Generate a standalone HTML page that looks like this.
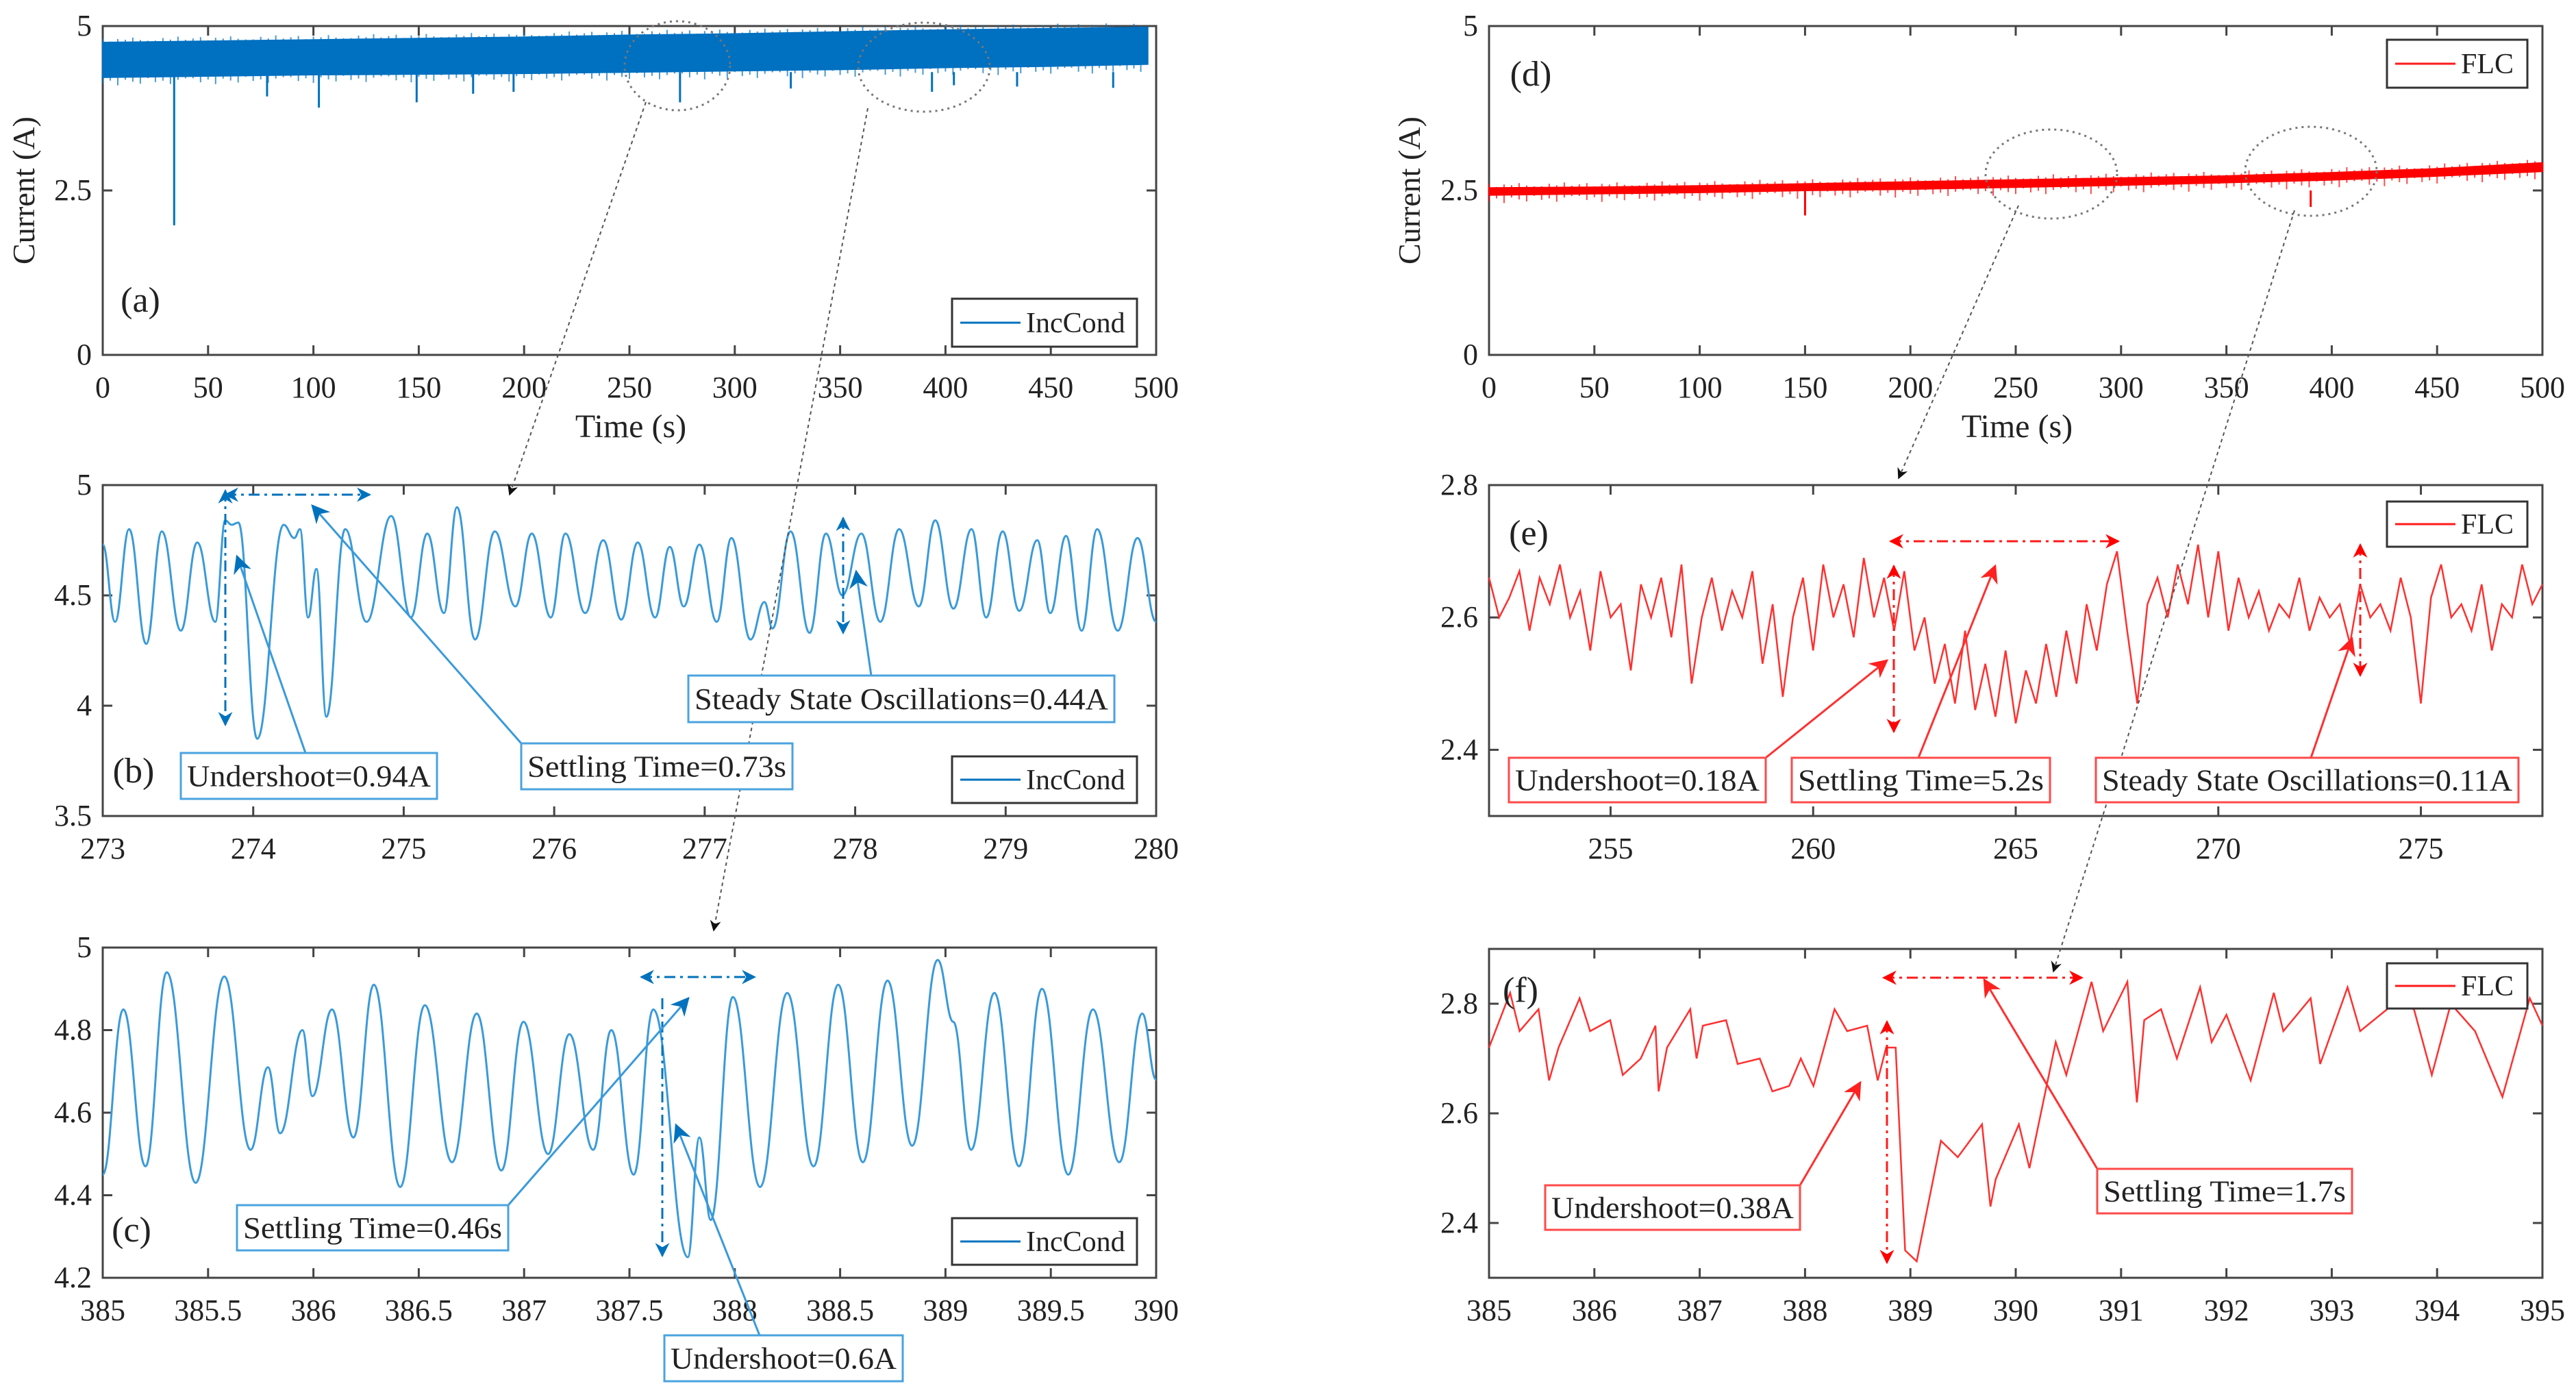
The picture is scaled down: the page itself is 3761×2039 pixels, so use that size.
<!DOCTYPE html>
<html><head><meta charset="utf-8"><style>
html,body{margin:0;padding:0;background:#fff}
svg{display:block}
text{font-family:"Liberation Serif",serif;fill:#222}
</style></head><body>
<svg id="fig" width="3761" height="2039" viewBox="0 0 3761 2039" xmlns="http://www.w3.org/2000/svg">
<defs>
<marker id="ab" viewBox="0 0 10 10" refX="9" refY="5" markerWidth="7" markerHeight="7" orient="auto-start-reverse"><path d="M0,0 L10,5 L0,10 L3,5 z" fill="#0072BD"/></marker>
<marker id="ar" viewBox="0 0 10 10" refX="9" refY="5" markerWidth="7" markerHeight="7" orient="auto-start-reverse"><path d="M0,0 L10,5 L0,10 L3,5 z" fill="#ff0000"/></marker>
<marker id="ak" viewBox="0 0 10 10" refX="9" refY="5" markerWidth="8" markerHeight="8" orient="auto"><path d="M0,0 L10,5 L0,10 L3,5 z" fill="#111"/></marker>
<marker id="abl" viewBox="0 0 10 10" refX="9" refY="5" markerWidth="9" markerHeight="9" orient="auto"><path d="M0,0 L10,5 L0,10 L3,5 z" fill="#0072BD"/></marker>
<marker id="arl" viewBox="0 0 10 10" refX="9" refY="5" markerWidth="9" markerHeight="9" orient="auto"><path d="M0,0 L10,5 L0,10 L3,5 z" fill="#ff2020"/></marker>
</defs>
</svg>
<script>
// ---- data ----
const aTimes=[0,50,100,150,200,250,300,350,400,450,496];
const aUpper=[4.75,4.77,4.79,4.81,4.83,4.86,4.88,4.91,4.94,4.96,4.98];
const aLower=[4.22,4.24,4.26,4.27,4.28,4.3,4.32,4.34,4.37,4.39,4.42];
const aSpikeT=[33.9,78,102.6,149,175.8,195,274,326.6,393.6,404,434,479.6];
const aSpikeV=[1.97,3.93,3.76,3.84,3.97,4.0,3.84,4.05,4.0,4.1,4.08,4.06];
const dTimes=[0,50,100,150,200,250,300,350,400,450,500];
const dUpper=[2.54,2.55,2.57,2.6,2.63,2.66,2.69,2.72,2.77,2.83,2.92];
const dLower=[2.43,2.45,2.47,2.5,2.52,2.55,2.58,2.62,2.66,2.72,2.79];
const dSpikeT=[150,300,390];
const dSpikeV=[2.12,2.5,2.25];
const bTimes=[273,273.082,273.175,273.289,273.393,273.519,273.628,273.748,273.814,273.857,273.901,274.027,274.202,274.273,274.311,274.365,274.42,274.486,274.611,274.753,274.917,275.048,275.157,275.267,275.354,275.474,275.605,275.742,275.851,275.977,276.075,276.206,276.326,276.446,276.555,276.67,276.768,276.861,276.965,277.08,277.178,277.304,277.397,277.451,277.571,277.697,277.806,277.915,278.041,278.167,278.292,278.423,278.532,278.653,278.773,278.871,278.98,279.09,279.21,279.297,279.401,279.505,279.608,279.745,279.876,280];
const bValues=[4.73,4.38,4.8,4.28,4.79,4.34,4.74,4.38,4.84,4.82,4.83,3.85,4.82,4.76,4.8,4.4,4.62,3.95,4.8,4.38,4.86,4.4,4.78,4.42,4.9,4.3,4.79,4.45,4.78,4.4,4.78,4.42,4.75,4.39,4.74,4.4,4.72,4.45,4.73,4.38,4.76,4.3,4.47,4.35,4.79,4.33,4.78,4.5,4.78,4.38,4.8,4.45,4.84,4.44,4.8,4.4,4.79,4.43,4.75,4.42,4.77,4.34,4.8,4.34,4.76,4.38];
const cTimes=[385,385.098,385.203,385.304,385.441,385.577,385.702,385.784,385.842,385.948,385.995,386.088,386.19,386.287,386.412,386.529,386.658,386.775,386.892,386.997,387.114,387.215,387.328,387.414,387.52,387.613,387.777,387.832,387.886,387.991,388.12,388.249,388.374,388.491,388.608,388.725,388.842,388.963,389.037,389.122,389.232,389.349,389.458,389.583,389.7,389.825,389.934,390];
const cValues=[4.45,4.85,4.47,4.94,4.43,4.93,4.51,4.71,4.55,4.8,4.64,4.85,4.54,4.91,4.42,4.86,4.48,4.84,4.46,4.82,4.5,4.79,4.51,4.8,4.45,4.85,4.25,4.54,4.34,4.88,4.42,4.89,4.47,4.91,4.48,4.92,4.52,4.97,4.82,4.51,4.89,4.47,4.9,4.45,4.85,4.48,4.84,4.68];
const eStart=252, eStep=0.25;
const eValues=[2.66,2.6,2.63,2.67,2.58,2.66,2.62,2.68,2.6,2.64,2.55,2.67,2.6,2.62,2.52,2.65,2.6,2.66,2.57,2.68,2.5,2.6,2.66,2.58,2.64,2.6,2.67,2.53,2.62,2.48,2.6,2.66,2.55,2.68,2.6,2.65,2.57,2.69,2.6,2.66,2.58,2.67,2.55,2.6,2.5,2.56,2.47,2.58,2.46,2.53,2.45,2.55,2.44,2.52,2.47,2.56,2.48,2.58,2.5,2.62,2.55,2.65,2.7,2.58,2.47,2.62,2.66,2.6,2.68,2.62,2.71,2.6,2.7,2.58,2.66,2.6,2.64,2.58,2.62,2.6,2.66,2.58,2.63,2.6,2.62,2.56,2.65,2.6,2.62,2.58,2.66,2.6,2.47,2.63,2.68,2.6,2.62,2.58,2.65,2.55,2.62,2.6,2.68,2.62,2.65];
const fTimes=[385,385.2,385.29,385.47,385.57,385.66,385.86,385.96,386.15,386.27,386.44,386.58,386.61,386.69,386.91,386.97,387.03,387.25,387.36,387.57,387.69,387.85,387.96,388.08,388.28,388.4,388.59,388.69,388.77,388.86,388.95,389.06,389.29,389.45,389.68,389.76,389.81,390.03,390.13,390.38,390.48,390.72,390.83,391.06,391.15,391.22,391.38,391.53,391.75,391.86,392.0,392.23,392.45,392.54,392.8,392.89,393.15,393.27,393.59,393.78,393.95,394.13,394.36,394.62,394.88,395];
const fValues=[2.72,2.82,2.75,2.79,2.66,2.72,2.81,2.75,2.77,2.67,2.7,2.76,2.64,2.72,2.79,2.7,2.76,2.77,2.69,2.7,2.64,2.65,2.7,2.65,2.79,2.75,2.76,2.66,2.72,2.72,2.35,2.33,2.55,2.52,2.58,2.43,2.48,2.58,2.5,2.73,2.67,2.84,2.75,2.84,2.62,2.77,2.79,2.7,2.83,2.73,2.78,2.66,2.82,2.75,2.81,2.69,2.83,2.75,2.8,2.79,2.67,2.8,2.75,2.63,2.81,2.76];
const ticksA=[0,50,100,150,200,250,300,350,400,450,500];
const ticksB=[273,274,275,276,277,278,279,280];
const ticksC=[385,385.5,386,386.5,387,387.5,388,388.5,389,389.5,390];
const ticksE=[255,260,265,270,275];
const ticksF=[385,386,387,388,389,390,391,392,393,394,395];

const svg=document.getElementById('fig');
const NS='http://www.w3.org/2000/svg';
function el(tag,attrs,parent){const e=document.createElementNS(NS,tag);for(const k in attrs)e.setAttribute(k,attrs[k]);(parent||svg).appendChild(e);return e;}
function txt(s,x,y,size,anchor,parent,extra){const t=el('text',Object.assign({x:x,y:y,'font-size':size,'text-anchor':anchor||'middle'},extra||{}),parent);t.textContent=s;return t;}

function axes(name,L,R,T,B,x0,x1,y0,y1,xt,yt){
  const g=el('g',{});
  
  
  const sx=v=>L+(v-x0)/(x1-x0)*(R-L), sy=v=>B-(v-y0)/(y1-y0)*(B-T);
  const frame=el('rect',{x:L,y:T,width:R-L,height:B-T,fill:'none',stroke:'#444','stroke-width':3},g);
  
  
  xt.forEach(v=>{const x=sx(v);
    el('line',{x1:x,x2:x,y1:B,y2:B-14,stroke:'#444','stroke-width':3},g);
    el('line',{x1:x,x2:x,y1:T,y2:T+14,stroke:'#444','stroke-width':3},g);
    const t=txt(String(v),x,B+62,44,'middle',g);
    
    });
  yt.forEach(v=>{const y=sy(v);
    el('line',{x1:L,x2:L+14,y1:y,y2:y,stroke:'#444','stroke-width':3},g);
    el('line',{x1:R,x2:R-14,y1:y,y2:y,stroke:'#444','stroke-width':3},g);
    const t=txt(String(v),L-16,y+14,44,'end',g);
    
    });
  return {g,sx,sy,L,R,T,B};
}
function smoothPath(ax,ts,vs){
  let d='M'+ax.sx(ts[0]).toFixed(1)+','+ax.sy(vs[0]).toFixed(1);
  for(let i=1;i<ts.length;i++){
    const x0=ax.sx(ts[i-1]),y0=ax.sy(vs[i-1]),x1=ax.sx(ts[i]),y1=ax.sy(vs[i]),dx=(x1-x0)*0.42;
    d+=' C'+(x0+dx).toFixed(1)+','+y0.toFixed(1)+' '+(x1-dx).toFixed(1)+','+y1.toFixed(1)+' '+x1.toFixed(1)+','+y1.toFixed(1);
  }
  return d;
}
function linePath(ax,ts,vs){return ts.map((t,i)=>(i?'L':'M')+ax.sx(t).toFixed(1)+','+ax.sy(vs[i]).toFixed(1)).join(' ');}
const jit=[3,9,5,12,4,7,10,2,8,6,11,5,3];
function band(ax,ts,up,lo,color,name){
  const d=ts.map((t,i)=>(i?'L':'M')+ax.sx(t).toFixed(1)+','+ax.sy(up[i]).toFixed(1)).join(' ')+' '+
    ts.slice().reverse().map((t,j)=>{const i=ts.length-1-j;return 'L'+ax.sx(t).toFixed(1)+','+ax.sy(lo[i]).toFixed(1);}).join(' ')+' Z';
  const p=el('path',{d:d,fill:color,stroke:color,'stroke-width':2},ax.g);
  
  
  let n=0;
  for(let k=0;k<ts.length-1;k++){for(let s=0;s<14;s++){const f=s/14,t=ts[k]+(ts[k+1]-ts[k])*f;
    const u=up[k]+(up[k+1]-up[k])*f,l=lo[k]+(lo[k+1]-lo[k])*f,x=ax.sx(t);n++;
    el('line',{x1:x,x2:x,y1:ax.sy(l)+jit[n%13],y2:ax.sy(l),stroke:color,'stroke-width':2,opacity:0.7},ax.g);
    el('line',{x1:x,x2:x,y1:ax.sy(u)-jit[(n+5)%13]*0.6,y2:ax.sy(u),stroke:color,'stroke-width':2,opacity:0.7},ax.g);}}
}
function spikes(ax,ts,vs,base,color){ts.forEach((t,i)=>{const x=ax.sx(t);
  const s=el('line',{x1:x,x2:x,y1:ax.sy(base(t)),y2:ax.sy(vs[i]),stroke:color,'stroke-width':3},ax.g);
  
  });}
function legend(x,y,w,h,label,color,name){
  const g=el('g',{});
  
  
  el('rect',{x:x,y:y,width:w,height:h,fill:'#fff',stroke:'#333','stroke-width':3},g);
  el('line',{x1:x+12,x2:x+100,y1:y+h/2,y2:y+h/2,stroke:color,'stroke-width':3},g);
  txt(label,x+108,y+h/2+14,42,'start',g);
}
function box(x,y,w,h,label,color,name){
  const g=el('g',{});
  
  
  el('rect',{x:x,y:y,width:w,height:h,fill:'#fff',stroke:color,'stroke-width':3},g);
  txt(label,x+w/2,y+h/2+15,44,'middle',g,{textLength:w-18,lengthAdjust:'spacingAndGlyphs'});
}
function arrow(x1,y1,x2,y2,color,marker,dash,both,name){
  const a={x1:x1,y1:y1,x2:x2,y2:y2,stroke:color,'stroke-width':3,'marker-end':'url(#'+marker+')'};
  if(dash)a['stroke-dasharray']=dash; if(both)a['marker-start']='url(#'+marker+')';
  const l=el('line',a);
  
  
}
const BLUE='#0072BD',RED='#ff1a1a',BBOX='#4aa3df',RBOX='#ff4a4a',DD='16 7 4 7';

const A=axes('chart-a',150,1688,38,518,0,500,0,5,ticksA,[0,2.5,5]);
band(A,aTimes,aUpper,aLower,'#0070C0','incond-band');
spikes(A,aSpikeT,aSpikeV,t=>4.3,'#0070C0');
legend(1390,436,270,70,'IncCond',BLUE,'legend-a');
txt('(a)',205,455,52,'middle');
const D=axes('chart-d',2174,3712,38,518,0,500,0,5,ticksA,[0,2.5,5]);
band(D,dTimes,dUpper,dLower,'#ff0000','flc-band');
spikes(D,dSpikeT,dSpikeV,t=>2.5,'#ff0000');
legend(3485,58,205,70,'FLC',RED,'legend-d');
txt('(d)',2235,125,52,'middle');
let t1=txt('Current (A)',0,0,46,'middle',svg,{transform:'translate(50,278) rotate(-90)'});

let t2=txt('Current (A)',0,0,46,'middle',svg,{transform:'translate(2073,278) rotate(-90)'});

let t3=txt('Time (s)',921,638,48,'middle');

let t4=txt('Time (s)',2945,638,48,'middle');


const Bx=axes('chart-b',150,1688,708,1191,273,280,3.5,5,ticksB,[3.5,4,4.5,5]);
let pb=el('path',{d:smoothPath(Bx,bTimes,bValues),fill:'none',stroke:'#3a9ad9','stroke-width':3},Bx.g);

legend(1390,1104,270,68,'IncCond',BLUE,'legend-b');
txt('(b)',195,1142,52,'middle');
const C=axes('chart-c',150,1688,1383,1865,385,390,4.2,5,ticksC,[4.2,4.4,4.6,4.8,5]);
let pc=el('path',{d:smoothPath(C,cTimes,cValues),fill:'none',stroke:'#3a9ad9','stroke-width':3},C.g);

legend(1390,1778,270,68,'IncCond',BLUE,'legend-c');
txt('(c)',192,1812,52,'middle');
const E=axes('chart-e',2174,3712,708,1191,252,278,2.3,2.8,ticksE,[2.4,2.6,2.8]);
const eTimes=eValues.map((v,i)=>eStart+i*eStep);
let pe=el('path',{d:linePath(E,eTimes,eValues),fill:'none',stroke:'#ff3030','stroke-width':2.5},E.g);

legend(3485,732,205,66,'FLC',RED,'legend-e');
txt('(e)',2232,795,52,'middle');
const F=axes('chart-f',2174,3712,1385,1865,385,395,2.3,2.9,ticksF,[2.4,2.6,2.8]);
let pf=el('path',{d:linePath(F,fTimes,fValues),fill:'none',stroke:'#ff3030','stroke-width':2.5},F.g);

legend(3485,1406,205,66,'FLC',RED,'legend-f');
txt('(f)',2220,1462,52,'middle');

[[989,96,77,65],[1349,98,96,65],[2995,254,96,65],[3374,250,96,65]].forEach((c,i)=>{
  const e=el('ellipse',{cx:c[0],cy:c[1],rx:c[2],ry:c[3],fill:'none',stroke:'#777','stroke-width':3,'stroke-dasharray':'3 6'});
  });
[[943,149,744,722],[1267,158,1042,1358],[2947,300,2772,698],[3350,307,2998,1418]].forEach(l=>{
  const e=el('line',{x1:l[0],y1:l[1],x2:l[2],y2:l[3],stroke:'#555','stroke-width':2,'stroke-dasharray':'5 5','marker-end':'url(#ak)'});
  });

arrow(329,716,329,1058,BLUE,'ab',DD,true,'undershoot-range-b');
arrow(329,722,540,722,BLUE,'ab',DD,true,'settling-range-b');
arrow(1231,756,1231,924,BLUE,'ab',DD,true,'oscillation-range-b');
arrow(446,1099,346,812,'#3a9ad9','abl',null,false,'undershoot-pointer-b');
arrow(761,1085,456,738,'#3a9ad9','abl',null,false,'settling-pointer-b');
arrow(1272,986,1250,834,'#3a9ad9','abl',null,false,'oscillation-pointer-b');
box(264,1099,374,67,'Undershoot=0.94A',BBOX,'undershoot-label-b');
box(761,1085,396,67,'Settling Time=0.73s',BBOX,'settling-label-b');
box(1005,986,622,68,'Steady State Oscillations=0.44A',BBOX,'oscillation-label-b');
arrow(936,1426,1102,1426,BLUE,'ab',DD,true,'settling-range-c');
arrow(967,1457,967,1833,BLUE,'ab',DD,false,'undershoot-range-c');
arrow(742,1759,1005,1457,'#3a9ad9','abl',null,false,'settling-pointer-c');
arrow(1109,1949,987,1642,'#3a9ad9','abl',null,false,'undershoot-pointer-c');
box(346,1759,396,66,'Settling Time=0.46s',BBOX,'settling-label-c');
box(970,1949,348,67,'Undershoot=0.6A',BBOX,'undershoot-label-c');
arrow(2760,790,3093,790,RED,'ar',DD,true,'settling-range-e');
arrow(2765,826,2765,1068,RED,'ar',DD,true,'undershoot-range-e');
arrow(3446,795,3446,986,RED,'ar',DD,true,'oscillation-range-e');
arrow(2578,1106,2755,964,'#ff3030','arl',null,false,'undershoot-pointer-e');
arrow(2801,1106,2913,826,'#ff3030','arl',null,false,'settling-pointer-e');
arrow(3374,1106,3434,932,'#ff3030','arl',null,false,'oscillation-pointer-e');
box(2203,1106,375,65,'Undershoot=0.18A',RBOX,'undershoot-label-e');
box(2616,1106,377,65,'Settling Time=5.2s',RBOX,'settling-label-e');
box(3060,1106,617,65,'Steady State Oscillations=0.11A',RBOX,'oscillation-label-e');
arrow(2750,1427,3040,1427,RED,'ar',DD,true,'settling-range-f');
arrow(2755,1491,2755,1843,RED,'ar',DD,true,'undershoot-range-f');
arrow(2628,1730,2716,1580,'#ff3030','arl',null,false,'undershoot-pointer-f');
arrow(3062,1706,2897,1430,'#ff3030','arl',null,false,'settling-pointer-f');
box(2256,1730,372,65,'Undershoot=0.38A',RBOX,'undershoot-label-f');
box(3062,1706,372,65,'Settling Time=1.7s',RBOX,'settling-label-f');
</script>
</body></html>
